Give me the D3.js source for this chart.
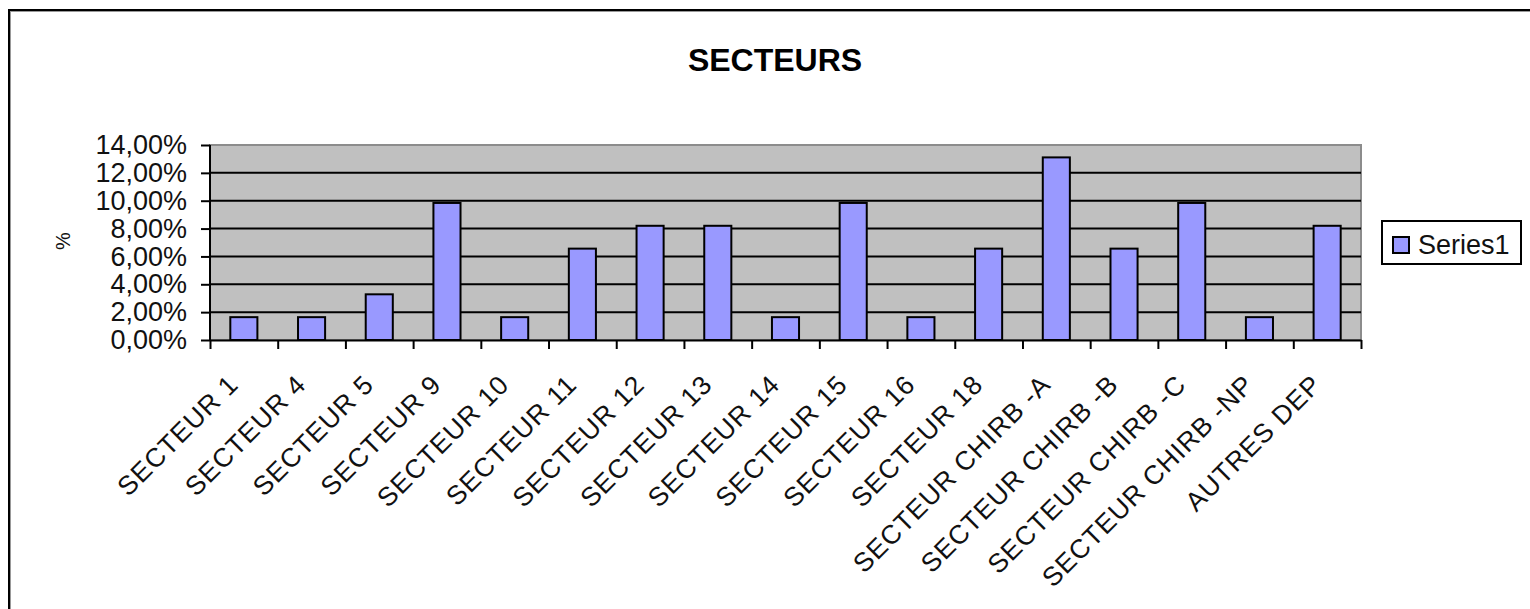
<!DOCTYPE html>
<html>
<head>
<meta charset="utf-8">
<script src="https://cdn.jsdelivr.net/npm/d3@7"></script>
<style>
body { margin: 0; background: #fff; }
text { font-family: "Liberation Sans", Arial, sans-serif; }
</style>
</head>
<body>
<div id="vis"></div>
<script>
var width = 1530,
    height = 609;

// data: share of 61 responses per sector
var categories = ["SECTEUR 1", "SECTEUR 4", "SECTEUR 5", "SECTEUR 9", "SECTEUR 10",
    "SECTEUR 11", "SECTEUR 12", "SECTEUR 13", "SECTEUR 14", "SECTEUR 15",
    "SECTEUR 16", "SECTEUR 18", "SECTEUR CHIRB -A", "SECTEUR CHIRB -B",
    "SECTEUR CHIRB -C", "SECTEUR CHIRB -NP", "AUTRES DEP"];
var values = [0.0164, 0.0164, 0.0328, 0.0984, 0.0164, 0.0656, 0.0820, 0.0820, 0.0164,
    0.0984, 0.0164, 0.0656, 0.1311, 0.0656, 0.0984, 0.0164, 0.0820];
var yTicks = [0, 0.02, 0.04, 0.06, 0.08, 0.10, 0.12, 0.14];
var seriesName = "Series1";
var chartTitle = "SECTEURS";

var plot = {left: 210, right: 1361, top: 145, bottom: 340};

var fr = d3.formatLocale({decimal: ",", thousands: " ", grouping: [3], currency: ["", "€"]});
var pct = fr.format(".2%");

var svg = d3.select("#vis").append("svg")
    .attr("width", width)
    .attr("height", height);

// outer frame
svg.append("rect")
    .attr("x", 10).attr("y", 11)
    .attr("width", 1540).attr("height", 700)
    .style("fill", "none").style("stroke", "#999").style("stroke-width", 2);
svg.append("rect")
    .attr("x", 9).attr("y", 10)
    .attr("width", 1540).attr("height", 700)
    .style("fill", "none").style("stroke", "black").style("stroke-width", 2);

var x = d3.scaleBand()
    .domain(categories)
    .range([plot.left, plot.right])
    .paddingInner(0.6)
    .paddingOuter(0.3);

var xEdge = d3.scaleLinear().domain([0, categories.length]).range([plot.left, plot.right]);

var y = d3.scaleLinear().domain([0, 0.14]).range([plot.bottom, plot.top]);

// plot area
svg.append("rect")
    .attr("x", plot.left).attr("y", plot.top)
    .attr("width", plot.right - plot.left).attr("height", plot.bottom - plot.top)
    .style("fill", "#c0c0c0").style("stroke", "#8c8c8c").style("stroke-width", 2);

// gridlines
svg.selectAll(".grid")
    .data(yTicks.slice(1, -1))
    .enter().append("line")
    .attr("class", "grid")
    .attr("x1", plot.left).attr("x2", plot.right)
    .attr("y1", function(d) { return y(d); })
    .attr("y2", function(d) { return y(d); })
    .style("stroke", "black").style("stroke-width", 2);

// bars
svg.selectAll(".bar")
    .data(values)
    .enter().append("rect")
    .attr("class", "bar")
    .attr("x", function(d, i) { return x(categories[i]); })
    .attr("width", x.bandwidth())
    .attr("y", function(d) { return y(d); })
    .attr("height", function(d) { return y(0) - y(d); })
    .style("fill", "#9999ff").style("stroke", "black").style("stroke-width", 2);

// y axis
var yAxis = svg.append("g")
    .attr("transform", "translate(" + plot.left + ",0)")
    .call(d3.axisLeft(y).tickValues(yTicks).tickFormat(pct).tickSize(9).tickPadding(14));
yAxis.selectAll("line, path").style("stroke", "black").style("stroke-width", 2);
yAxis.select(".domain").attr("d", "M0," + plot.bottom + "V" + plot.top);
yAxis.selectAll("text")
    .style("font-family", "'Liberation Sans', Arial, sans-serif")
    .style("font-size", "27px").style("fill", "#111");

// x axis (ticks at category edges)
var xAxis = svg.append("g")
    .attr("transform", "translate(0," + plot.bottom + ")")
    .call(d3.axisBottom(xEdge).tickValues(d3.range(categories.length + 1))
        .tickFormat("").tickSize(9).tickSizeOuter(0));
xAxis.selectAll("line, path").style("stroke", "black").style("stroke-width", 2);

svg.selectAll(".xlabel")
    .data(categories)
    .enter().append("text")
    .attr("class", "xlabel")
    .attr("transform", function(d) {
        return "translate(" + (x(d) + x.bandwidth() / 2 - 4) + "," + (plot.bottom + 46) + ") rotate(-45)";
    })
    .style("text-anchor", "end")
    .style("font-size", "26.5px")
    .style("letter-spacing", "1px")
    .style("fill", "#111")
    .text(function(d) { return d; });

// y title
svg.append("text")
    .attr("transform", "translate(70,241) rotate(-90)")
    .style("text-anchor", "middle")
    .style("font-size", "20px")
    .style("fill", "#111")
    .text("%");

// chart title
svg.append("text")
    .attr("x", 775).attr("y", 71)
    .style("text-anchor", "middle")
    .style("font-size", "32px").style("font-weight", "bold")
    .text(chartTitle);

// legend
var legend = svg.append("g").attr("id", "legend");
legend.append("rect")
    .attr("x", 1382).attr("y", 221).attr("width", 139).attr("height", 43)
    .style("fill", "white").style("stroke", "black").style("stroke-width", 2);
legend.append("rect")
    .attr("x", 1393).attr("y", 237).attr("width", 16).attr("height", 16)
    .style("fill", "#9999ff").style("stroke", "black").style("stroke-width", 2);
legend.append("text")
    .attr("x", 1418).attr("y", 254)
    .style("font-size", "27px").style("fill", "#111")
    .text(seriesName);
</script>
</body>
</html>
